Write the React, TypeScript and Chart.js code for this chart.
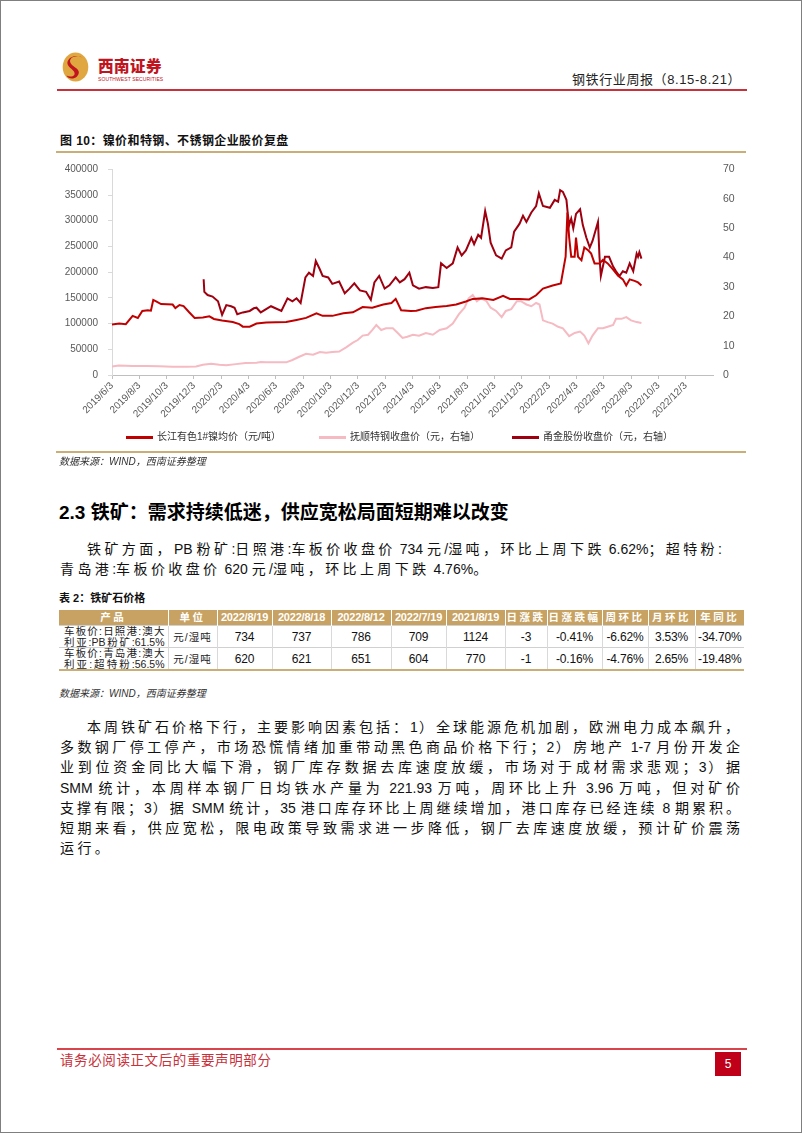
import React, { useEffect, useRef } from "react";
import { Chart, registerables } from "chart.js";
Chart.register(...registerables);

// ---- chart data ----
const xTickMonths = [0, 2, 4, 6, 8, 10, 12, 14, 16, 18, 20, 22, 24, 26, 28, 30, 32, 34, 36, 38, 40, 42];
const xTickLabels = [
  "2019/6/3", "2019/8/3", "2019/10/3", "2019/12/3", "2020/2/3", "2020/4/3", "2020/6/3", "2020/8/3",
  "2020/10/3", "2020/12/3", "2021/2/3", "2021/4/3", "2021/6/3", "2021/8/3", "2021/10/3", "2021/12/3",
  "2022/2/3", "2022/4/3", "2022/6/3", "2022/8/3", "2022/10/3", "2022/12/3",
];

// months elapsed since 2019/6/3
const nickelMonths = [
  0, 0.53, 1.01, 1.51, 1.89, 2.22, 2.62, 2.85, 3.02, 3.23, 3.59, 4.44, 4.64, 4.94, 5.24, 5.65, 6.05, 6.65,
  7.13, 7.46, 8.06, 8.84, 9.32, 9.58, 10.08, 10.58, 11.29, 12.0, 12.75, 13.51, 14.21, 14.97, 15.42, 16.13,
  16.94, 17.64, 18.35, 19.05, 19.86, 20.46, 20.77, 21.17, 21.87, 22.28, 22.98, 23.69, 24.5, 25.2, 25.91,
  26.41, 27.12, 27.92, 28.63, 29.13, 29.84, 30.54, 31.05, 31.55, 32.26, 32.86, 33.21, 33.34, 33.47, 33.62,
  33.87, 33.97, 34.12, 34.37, 34.58, 34.88, 35.08, 35.33, 35.69, 35.94, 36.29, 36.69, 37.05, 37.4, 37.65,
  37.9, 38.26, 38.51, 38.76,
];
const nickelPrice = [
  98000, 100000, 98700, 115000, 111000, 124600, 126000, 125000, 146000, 143000, 138000, 137000, 130000,
  136000, 134000, 122000, 111000, 112000, 114000, 109000, 106000, 103000, 99000, 94000, 94000, 100000,
  102000, 102500, 103000, 107000, 111000, 120000, 115000, 115000, 120000, 122000, 132000, 131000, 137000,
  140000, 148000, 126000, 124600, 125000, 130000, 132000, 134000, 137000, 143000, 148000, 149000, 146000,
  154000, 148000, 148000, 147000, 155000, 168000, 174000, 178000, 230000, 316000, 267000, 230000, 230000,
  267000, 230000, 223000, 248000, 242000, 236000, 217000, 217000, 224000, 217000, 205000, 193000, 186000,
  174000, 186000, 183000, 180000, 174000,
];

const fushunMonths = [
  0, 0.5, 1.51, 2.52, 3.43, 4.44, 5.44, 6.15, 6.65, 7.26, 7.86, 8.37, 9.07, 9.78, 10.58, 10.89, 11.29, 12.0,
  12.75, 13.21, 13.71, 14.21, 14.72, 15.22, 15.68, 16.13, 16.63, 17.14, 17.64, 17.99, 18.35, 18.75, 19.05,
  19.35, 19.71, 20.06, 20.56, 20.92, 21.27, 21.62, 22.03, 22.48, 22.98, 23.49, 23.99, 24.5, 24.95, 25.4,
  25.81, 26.11, 26.41, 26.71, 27.02, 27.42, 27.72, 28.12, 28.53, 28.83, 29.23, 29.64, 29.94, 30.34, 30.7,
  31.05, 31.3, 31.55, 31.9, 32.26, 32.66, 33.01, 33.47, 33.87, 34.27, 34.58, 34.88, 35.18, 35.58, 35.94,
  36.29, 36.69, 36.9, 37.3, 37.65, 38.0, 38.41, 38.76,
];
const fushunClose = [
  2.9, 3.2, 3.1, 3.1, 3.0, 2.8, 2.8, 2.9, 3.5, 3.8, 3.5, 3.3, 3.7, 4.1, 4.2, 4.4, 4.3, 4.3, 4.3, 5.1, 6.2,
  7.2, 6.9, 7.8, 7.6, 7.8, 8.0, 9.4, 11.0, 11.9, 13.4, 13.7, 15.3, 17.0, 15.3, 15.9, 15.9, 14.3, 12.6, 13.0,
  13.7, 13.4, 14.3, 13.7, 15.3, 15.9, 17.5, 20.7, 22.9, 26.1, 27.2, 25.1, 26.1, 25.1, 22.9, 21.8, 19.7,
  21.8, 22.4, 25.1, 25.1, 24.0, 23.4, 24.5, 24.0, 18.6, 18.0, 17.5, 16.4, 15.9, 13.2, 14.3, 14.8, 13.4, 10.8,
  13.4, 15.9, 15.9, 16.4, 17.0, 19.1, 19.1, 19.7, 18.6, 18.0, 17.7,
];

const yongjinMonths = [
  6.71, 6.76, 7.0, 7.36, 7.76, 8.06, 8.37, 8.72, 8.97, 9.17, 9.58, 10.08, 10.38, 10.58, 10.89, 11.64, 12.4,
  12.85, 13.21, 13.51, 13.81, 14.16, 14.42, 14.72, 14.92, 15.22, 15.42, 15.83, 16.13, 16.63, 17.04, 17.39,
  17.74, 18.15, 18.6, 18.95, 19.21, 19.56, 19.96, 20.31, 20.77, 21.07, 21.42, 21.77, 22.03, 22.48, 22.98,
  23.49, 23.89, 24.09, 24.5, 24.95, 25.3, 25.6, 25.91, 26.31, 26.51, 26.81, 27.02, 27.32, 27.52, 27.72,
  28.12, 28.53, 28.83, 29.23, 29.44, 29.84, 30.09, 30.34, 30.7, 31.05, 31.25, 31.55, 32.06, 32.41, 32.66,
  32.81, 33.01, 33.27, 33.37, 33.47, 33.62, 33.77, 33.97, 34.27, 34.47, 34.73, 34.98, 35.18, 35.58, 35.69,
  35.79, 36.09, 36.39, 36.69, 36.9, 37.15, 37.4, 37.65, 37.9, 38.16, 38.41, 38.51, 38.61, 38.76,
];
const yongjinClose = [
  32.6, 28.3, 27.2, 26.7, 25.1, 20.5, 23.8, 23.4, 22.9, 20.7, 21.3, 21.8, 22.7, 22.9, 21.3, 23.4, 21.8, 26.1,
  25.1, 26.1, 24.5, 33.2, 34.8, 33.7, 38.8, 35.9, 33.7, 33.2, 31.0, 31.8, 27.8, 29.4, 31.2, 28.8, 28.3, 25.6,
  31.5, 33.7, 29.4, 30.5, 33.2, 31.5, 32.6, 34.8, 30.5, 29.4, 29.9, 29.6, 29.9, 38.0, 36.4, 38.0, 43.4, 40.7,
  42.4, 46.7, 44.5, 47.7, 46.7, 55.8, 51.5, 45.0, 40.7, 39.6, 42.4, 43.4, 48.8, 51.5, 54.2, 52.1, 55.3, 57.5,
  61.8, 57.5, 56.9, 59.6, 59.0, 62.9, 62.3, 59.6, 54.8, 51.0, 53.2, 49.9, 54.8, 56.4, 51.0, 46.7, 43.4, 45.6,
  52.1, 40.2, 33.7, 40.2, 40.2, 36.9, 35.3, 33.7, 35.3, 34.8, 38.0, 35.3, 41.3, 40.2, 41.8, 39.6,
];

// ---- table data ----
const tableHeaders = ["产品", "单位", "2022/8/19", "2022/8/18", "2022/8/12", "2022/7/19", "2021/8/19", "日涨跌", "日涨跌幅", "周环比", "月环比", "年同比"];
const tableProducts = [["车板价:日照港:澳大", "利亚:PB粉矿:61.5%"], ["车板价:青岛港:澳大", "利亚:超特粉:56.5%"]];
const tableUnits = ["元/湿吨", "元/湿吨"];
const tableRow1 = ["734", "737", "786", "709", "1124", "-3", "-0.41%", "-6.62%", "3.53%", "-34.70%"];
const tableRow2 = ["620", "621", "651", "604", "770", "-1", "-0.16%", "-4.76%", "2.65%", "-19.48%"];
const colWidths = [109, 49, 55, 59, 60, 55, 59, 42, 55, 46, 47, 49];

const para1Lines = [
  "铁矿方面，PB 粉矿:日照港:车板价收盘价 734 元/湿吨，环比上周下跌 6.62%；超特粉:",
  "青岛港:车板价收盘价 620 元/湿吨，环比上周下跌 4.76%。",
];
const para2Lines = [
  "本周铁矿石价格下行，主要影响因素包括：1）全球能源危机加剧，欧洲电力成本飙升，",
  "多数钢厂停工停产，市场恐慌情绪加重带动黑色商品价格下行；2）房地产 1-7 月份开发企",
  "业到位资金同比大幅下滑，钢厂库存数据去库速度放缓，市场对于成材需求悲观；3）据",
  "SMM 统计，本周样本钢厂日均铁水产量为 221.93 万吨，周环比上升 3.96 万吨，但对矿价",
  "支撑有限；3）据 SMM 统计，35 港口库存环比上周继续增加，港口库存已经连续 8 期累积。",
  "短期来看，供应宽松，限电政策导致需求进一步降低，钢厂去库速度放缓，预计矿价震荡",
  "运行。",
];

const SANS = '"Liberation Sans", "Noto Sans CJK SC", sans-serif';
const GOLD = "#C9AE78";

function toPoints(xs: number[], ys: number[]) {
  return xs.map((x, i) => ({ x, y: ys[i] }));
}

function NickelChart() {
  const ref = useRef<HTMLCanvasElement | null>(null);
  useEffect(() => {
    if (!ref.current) return;
    const tickFont = { family: '"Liberation Sans", Arial, sans-serif', size: 10 };
    const chart = new Chart(ref.current, {
      type: "line",
      data: {
        datasets: [
          {
            label: "长江有色1#镍均价（元/吨）",
            data: toPoints(nickelMonths, nickelPrice),
            borderColor: "#C00000",
            borderWidth: 2,
            pointRadius: 0,
            yAxisID: "y",
            order: 0,
          },
          {
            label: "抚顺特钢收盘价（元，右轴）",
            data: toPoints(fushunMonths, fushunClose),
            borderColor: "#F5BAC2",
            borderWidth: 2,
            pointRadius: 0,
            yAxisID: "y1",
            order: 2,
          },
          {
            label: "甬金股份收盘价（元，右轴）",
            data: toPoints(yongjinMonths, yongjinClose),
            borderColor: "#9E0010",
            borderWidth: 2,
            pointRadius: 0,
            yAxisID: "y1",
            order: 1,
          },
        ],
      },
      options: {
        animation: false,
        responsive: false,
        maintainAspectRatio: false,
        layout: { padding: { top: 6, left: 0, right: 0, bottom: 0 } },
        plugins: { legend: { display: false }, tooltip: { enabled: false } },
        scales: {
          x: {
            type: "linear",
            min: 0,
            max: 44,
            afterBuildTicks: (s: any) => {
              s.ticks = xTickMonths.map((v) => ({ value: v }));
            },
            afterFit: (s: any) => {
              s.height = 56;
            },
            ticks: {
              autoSkip: false,
              minRotation: 45,
              maxRotation: 45,
              padding: 1,
              color: "#595959",
              font: tickFont,
              callback: (v: any) => {
                const i = xTickMonths.indexOf(Number(v));
                return i >= 0 ? xTickLabels[i] : "";
              },
            },
            grid: { drawOnChartArea: false, drawTicks: true, tickLength: 4, color: "#BFBFBF" },
            border: { display: true, color: "#BFBFBF" },
          },
          y: {
            position: "left",
            min: 0,
            max: 400000,
            afterFit: (s: any) => {
              s.width = 56;
            },
            ticks: { stepSize: 50000, padding: 10, color: "#595959", font: tickFont, callback: (v: any) => String(v) },
            grid: { drawOnChartArea: false, drawTicks: true, tickLength: 4, color: "#D9D9D9" },
            border: { display: true, color: "#D9D9D9" },
          },
          y1: {
            position: "right",
            min: 0,
            max: 70,
            afterFit: (s: any) => {
              s.width = 33;
            },
            ticks: {
              stepSize: 10,
              padding: 10,
              color: "#595959",
              font: { family: '"Liberation Sans", Arial, sans-serif', size: 10.5 },
              callback: (v: any) => String(v),
            },
            grid: { display: false, drawTicks: false },
            border: { display: false },
          },
        },
      },
    });
    return () => chart.destroy();
  }, []);
  return <canvas ref={ref} width={690} height={278} style={{ position: "absolute", left: 55, top: 152, width: 690, height: 278 }} />;
}

function Abs(props: { l: number; t: number; style?: React.CSSProperties; children?: React.ReactNode }) {
  return <div style={{ position: "absolute", left: props.l, top: props.t, whiteSpace: "nowrap", ...props.style }}>{props.children}</div>;
}

// spaced CJK text, Latin runs unspaced
function Mixed({ text, spacing }: { text: string; spacing: number }) {
  const runs = text.match(/[\x00-\x7F]+|[^\x00-\x7F]+/g) || [];
  return (
    <>
      {runs.map((r, i) =>
        /[\x00-\x7F]/.test(r[0]) ? (
          <span key={i} style={{ letterSpacing: 0 }}>{r}</span>
        ) : (
          <span key={i} style={{ letterSpacing: spacing }}>{r}</span>
        )
      )}
    </>
  );
}

function Logo() {
  return (
    <svg width={27} height={30} viewBox="0 0 27 30" style={{ position: "absolute", left: 61, top: 51 }}>
      <ellipse cx={13.5} cy={15} rx={12.8} ry={14.5} fill="#E0A640" />
      <path d="M21 6 C 13 1.5, 4 7, 10 13 C 14 16.5, 20 18.5, 15 24.5 C 11 28, 6 26.5, 4.5 23.5 C 9 26, 14.5 24, 12 19.5 C 9 15.5, 1.5 12.5, 8 6 C 12 3, 17.5 3.5, 21 6 Z" fill="#C0141E" />
    </svg>
  );
}

function LegendItem({ x, color, text }: { x: number; color: string; text: string }) {
  return (
    <>
      <div style={{ position: "absolute", left: x, top: 434.5, width: 27, height: 3, background: color }} />
      <Abs l={x + 31} t={429} style={{ fontFamily: SANS, fontSize: 10, color: "#333", lineHeight: "14px" }}>
        {text}
      </Abs>
    </>
  );
}

const bodyText: React.CSSProperties = {
  fontFamily: SANS,
  fontSize: 14,
  lineHeight: "20px",
  color: "#111",
};

function JLine({ l, t, w, text }: { l: number; t: number; w: number; text: string }) {
  return (
    <div
      style={{
        ...bodyText,
        position: "absolute",
        left: l,
        top: t,
        width: w,
        textAlign: "justify",
        textAlignLast: "justify" as any,
      }}
    >
      <Mixed text={text} spacing={2} />
    </div>
  );
}

export default function App() {
  const cellBase: React.CSSProperties = {
    border: "none",
    padding: 0,
    textAlign: "center",
    verticalAlign: "middle",
  };
  return (
    <div
      style={{
        position: "absolute",
        left: 0,
        top: 0,
        width: 802,
        height: 1133,
        boxSizing: "border-box",
        border: "1px solid #7F7F7F",
        background: "#fff",
        overflow: "hidden",
        fontFamily: SANS,
      }}
    >
      {/* header */}
      <Logo />
      <Abs l={97} t={57} style={{ fontFamily: SANS, fontWeight: 900, fontSize: 15.5, color: "#C0141E", letterSpacing: 0.5, lineHeight: "18px" }}>
        西南证券
      </Abs>
      <Abs l={97} t={75} style={{ fontFamily: SANS, fontSize: 5, color: "#C0141E", lineHeight: "6px", letterSpacing: 0.1 }}>
        SOUTHWEST SECURITIES
      </Abs>
      <Abs l={571} t={71} style={{ fontFamily: SANS, fontSize: 13, color: "#222", lineHeight: "16px", letterSpacing: 0.6 }}>
        钢铁行业周报（8.15-8.21）
      </Abs>
      <div style={{ position: "absolute", left: 56, top: 88, width: 690, height: 2, background: "#C9303A" }} />

      {/* chart title */}
      <Abs l={59} t={133} style={{ fontFamily: SANS, fontWeight: 700, fontSize: 12, color: "#111", lineHeight: "15px", letterSpacing: 0.4 }}>
        图 10：镍价和特钢、不锈钢企业股价复盘
      </Abs>
      <div style={{ position: "absolute", left: 55, top: 150, width: 690, height: 2, background: GOLD }} />

      <NickelChart />

      <LegendItem x={125} color="#C00000" text="长江有色1#镍均价（元/吨）" />
      <LegendItem x={318} color="#F5BAC2" text="抚顺特钢收盘价（元，右轴）" />
      <LegendItem x={511} color="#9E0010" text="甬金股份收盘价（元，右轴）" />

      <div style={{ position: "absolute", left: 55, top: 450, width: 690, height: 2, background: GOLD }} />
      <Abs l={58} t={454} style={{ fontSize: 10, fontStyle: "italic", color: "#333", lineHeight: "13px" }}>
        数据来源：WIND，西南证券整理
      </Abs>

      {/* section heading */}
      <Abs l={58} t={500} style={{ fontFamily: SANS, fontWeight: 700, fontSize: 19, color: "#000", lineHeight: "24px" }}>
        2.3 铁矿：需求持续低迷，供应宽松局面短期难以改变
      </Abs>

      <Abs l={86} t={538} style={bodyText}>
        <Mixed text={para1Lines[0]} spacing={3.4} />
      </Abs>
      <Abs l={59} t={558} style={bodyText}>
        <Mixed text={para1Lines[1]} spacing={3.4} />
      </Abs>

      {/* table */}
      <Abs l={58} t={590} style={{ fontFamily: SANS, fontWeight: 700, fontSize: 11, color: "#111", lineHeight: "14px" }}>
        表 2：铁矿石价格
      </Abs>
      <table
        style={{
          position: "absolute",
          left: 58,
          top: 609,
          width: 685,
          borderCollapse: "collapse",
          tableLayout: "fixed",
          fontFamily: SANS,
          borderBottom: `2px solid ${GOLD}`,
        }}
      >
        <colgroup>
          {colWidths.map((w, i) => (
            <col key={i} style={{ width: w }} />
          ))}
        </colgroup>
        <tbody>
          <tr style={{ height: 15, background: "#C8A262" }}>
            {tableHeaders.map((h, i) => (
              <td
                key={i}
                style={{
                  ...cellBase,
                  color: "#fff",
                  fontWeight: 700,
                  fontSize: i >= 2 && i <= 6 ? 11 : 10.5,
                  letterSpacing: i >= 2 && i <= 6 ? -0.2 : 2.5,
                  lineHeight: "15px",
                  borderLeft: i > 0 ? "1px solid #fff" : "none",
                  whiteSpace: "nowrap",
                  overflow: "hidden",
                }}
              >
                {h}
              </td>
            ))}
          </tr>
          {[tableRow1, tableRow2].map((row, r) => (
            <tr key={r} style={{ height: r === 0 ? 21 : 22, borderTop: "1px solid #D0D0D0" }}>
              <td style={{ ...cellBase, fontSize: 10.5, lineHeight: "10.5px", color: "#222", padding: "0 3px 0 5px" }}>
                <div style={{ textAlign: "justify", textAlignLast: "justify" as any, whiteSpace: "nowrap" }}>{tableProducts[r][0]}</div>
                <div style={{ textAlign: "justify", textAlignLast: "justify" as any, whiteSpace: "nowrap" }}>{tableProducts[r][1]}</div>
              </td>
              <td style={{ ...cellBase, fontSize: 10.5, color: "#222", borderLeft: "1px solid #D9D9D9", letterSpacing: 1 }}>{tableUnits[r]}</td>
              {row.map((v, i) => (
                <td key={i} style={{ ...cellBase, fontSize: 12, color: "#111", borderLeft: "1px solid #D9D9D9", letterSpacing: -0.2 }}>
                  {v}
                </td>
              ))}
            </tr>
          ))}
        </tbody>
      </table>
      <Abs l={58} t={686} style={{ fontSize: 10, fontStyle: "italic", color: "#333", lineHeight: "13px" }}>
        数据来源：WIND，西南证券整理
      </Abs>

      {/* paragraph 2 */}
      {para2Lines.map((line, i) =>
        i === para2Lines.length - 1 ? (
          <Abs key={i} l={59} t={716 + i * 20.2} style={bodyText}>
            <Mixed text={line} spacing={3.4} />
          </Abs>
        ) : (
          <JLine key={i} l={i === 0 ? 86 : 59} t={716 + i * 20.2} w={i === 0 ? 654 : 682} text={line} />
        )
      )}

      {/* footer */}
      <div style={{ position: "absolute", left: 56, top: 1047, width: 690, height: 2, background: "#D9434B" }} />
      <Abs l={59} t={1051} style={{ fontFamily: SANS, fontSize: 13.5, color: "#C8303A", lineHeight: "18px", letterSpacing: 0.6 }}>
        请务必阅读正文后的重要声明部分
      </Abs>
      <div
        style={{
          position: "absolute",
          left: 714,
          top: 1051,
          width: 26,
          height: 24,
          background: "#C00018",
          color: "#fff",
          fontSize: 12,
          lineHeight: "24px",
          textAlign: "center",
          fontFamily: SANS,
        }}
      >
        5
      </div>
    </div>
  );
}
